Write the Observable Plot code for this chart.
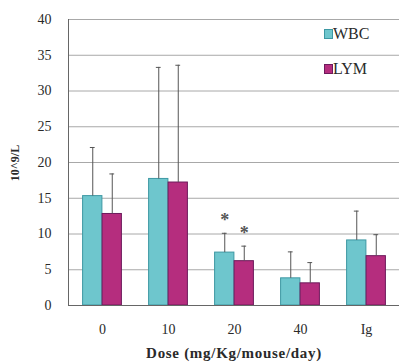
<!DOCTYPE html>
<html>
<head>
<meta charset="utf-8">
<script src="https://cdn.jsdelivr.net/npm/d3@7"></script>
<script src="https://cdn.jsdelivr.net/npm/@observablehq/plot@0.6"></script>
<style>
  html, body { margin: 0; padding: 0; background: #fff; }
  #wrap { position: relative; width: 399px; height: 362px; font-family: "Liberation Serif", "Times New Roman", serif; color: #2a2a2a; }
  #chart svg { display: block; }
  #chart svg text { font-family: "Liberation Serif", "Times New Roman", serif; }
  .lg { position: absolute; font-size: 16px; color: #2a2a2a; line-height: 1; }
  .sw { position: absolute; width: 7px; height: 8px; }
  #ytitle { position: absolute; left: 15px; top: 163px; transform: translate(-50%, -50%) rotate(-90deg); font-weight: bold; font-size: 12px; white-space: nowrap; }
  #xtitle { position: absolute; left: 234px; top: 353px; transform: translate(-50%, -50%); font-weight: bold; font-size: 15px; letter-spacing: 0.7px; white-space: nowrap; }
</style>
</head>
<body>
<div id="wrap">
  <div id="chart"></div>
  <div class="sw" style="left:324px;top:29px;background:#6ec6cd;border:1px solid #3d98a3;"></div>
  <div class="lg" style="left:333px;top:26px;">WBC</div>
  <div class="sw" style="left:324px;top:64px;background:#b52d7e;border:1px solid #6d1a5c;"></div>
  <div class="lg" style="left:333px;top:61px;">LYM</div>
  <div id="ytitle">10^9/L</div>
  <div id="xtitle">Dose (mg/Kg/mouse/day)</div>
</div>
<script>
const doses = ["0", "10", "20", "40", "Ig"];
const wbcMean = [15.3, 17.7, 7.4, 3.8, 9.1];
const wbcErr = [6.8, 15.6, 2.7, 3.7, 4.1];
const wbcSig = ["", "", "*", "", ""];
const lymMean = [12.8, 17.2, 6.2, 3.1, 6.9];
const lymErr = [5.6, 16.4, 2.1, 2.9, 3.0];
const lymSig = ["", "", "*", "", ""];
const yTicks = [0, 5, 10, 15, 20, 25, 30, 35, 40];

const wbcRows = doses.map((d, i) => ({dose: d, mean: wbcMean[i], err: wbcErr[i], sig: wbcSig[i]}));
const lymRows = doses.map((d, i) => ({dose: d, mean: lymMean[i], err: lymErr[i], sig: lymSig[i]}));

const bw = 66.2, barW = 19.5, capW = 5;
function seriesMarks(rows, side, fill, stroke) {
  const center = bw / 2 + side * barW / 2;
  const barInsetLeft = side < 0 ? bw / 2 - barW : bw / 2;
  const barInsetRight = side < 0 ? bw / 2 : bw / 2 - barW;
  return [
    Plot.barY(rows, {x: "dose", y: "mean", fill, stroke, strokeWidth: 1, insetLeft: barInsetLeft, insetRight: barInsetRight}),
    Plot.ruleX(rows, {x: "dose", y1: "mean", y2: d => d.mean + d.err, dx: side * barW / 2, stroke: "#555", strokeWidth: 1}),
    Plot.tickY(rows, {x: "dose", y: d => d.mean + d.err, insetLeft: center - capW / 2, insetRight: bw - center - capW / 2, stroke: "#555", strokeWidth: 1}),
    Plot.text(rows.filter(d => d.sig), {x: "dose", y: d => d.mean + d.err, text: "sig", dx: side * barW / 2, dy: -13, fontSize: 18, fontWeight: "bold", fill: "#555", lineAnchor: "middle"})
  ];
}

const chart = Plot.plot({
  width: 399,
  height: 362,
  marginLeft: 68,
  marginRight: 0,
  marginTop: 19,
  marginBottom: 57,
  style: {fontFamily: "Liberation Serif", fontSize: "14px", background: "white", color: "#2a2a2a"},
  x: {domain: doses, padding: 0, label: null, tickSize: 0, tickPadding: 19},
  y: {domain: [0, 40], ticks: yTicks, label: null, tickSize: 0, tickPadding: 17},
  marks: [
    Plot.gridY(yTicks, {stroke: "#a8a8a8", strokeOpacity: 1}),
    Plot.frame({anchor: "left", stroke: "#666"}),
    ...seriesMarks(wbcRows, -1, "#6ec6cd", "#3d98a3"),
    ...seriesMarks(lymRows, 1, "#b52d7e", "#6d1a5c"),
    Plot.ruleY([0], {stroke: "#666"})
  ]
});
document.getElementById("chart").appendChild(chart);
</script>
</body>
</html>
